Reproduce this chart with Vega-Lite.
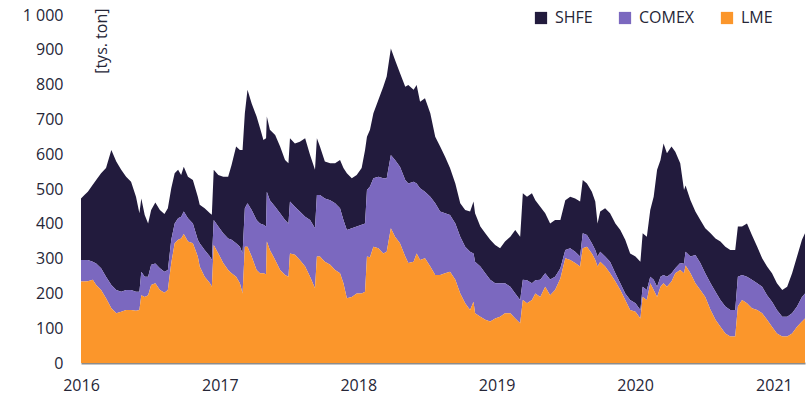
{
  "$schema": "https://vega.github.io/schema/vega-lite/v6.json",
  "width": 724,
  "height": 348,
  "autosize": {"type": "none"},
  "padding": {"left": 81, "top": 15, "right": 3, "bottom": 39},
  "config": {"font": "Open Sans", "view": {"stroke": null}},
  "data": {"values": [
    {"d":"2016-01-01","LME":234,"COMEX":62,"SHFE":177},
    {"d":"2016-01-10","LME":234,"COMEX":62,"SHFE":187},
    {"d":"2016-01-19","LME":235,"COMEX":61,"SHFE":196},
    {"d":"2016-02-01","LME":239,"COMEX":52,"SHFE":221},
    {"d":"2016-02-10","LME":224,"COMEX":62,"SHFE":240},
    {"d":"2016-02-23","LME":210,"COMEX":62,"SHFE":273},
    {"d":"2016-03-07","LME":186,"COMEX":62,"SHFE":312},
    {"d":"2016-03-21","LME":157,"COMEX":67,"SHFE":388},
    {"d":"2016-04-03","LME":143,"COMEX":67,"SHFE":369},
    {"d":"2016-04-16","LME":147,"COMEX":58,"SHFE":350},
    {"d":"2016-04-29","LME":152,"COMEX":58,"SHFE":325},
    {"d":"2016-05-12","LME":152,"COMEX":58,"SHFE":311},
    {"d":"2016-05-25","LME":150,"COMEX":55,"SHFE":273},
    {"d":"2016-06-03","LME":152,"COMEX":53,"SHFE":225},
    {"d":"2016-06-08","LME":195,"COMEX":67,"SHFE":211},
    {"d":"2016-06-17","LME":190,"COMEX":58,"SHFE":177},
    {"d":"2016-06-26","LME":195,"COMEX":53,"SHFE":153},
    {"d":"2016-07-04","LME":224,"COMEX":58,"SHFE":158},
    {"d":"2016-07-15","LME":229,"COMEX":57,"SHFE":175},
    {"d":"2016-07-27","LME":210,"COMEX":62,"SHFE":168},
    {"d":"2016-08-08","LME":202,"COMEX":60,"SHFE":166},
    {"d":"2016-08-17","LME":210,"COMEX":57,"SHFE":178},
    {"d":"2016-08-26","LME":287,"COMEX":67,"SHFE":148},
    {"d":"2016-09-04","LME":344,"COMEX":57,"SHFE":144},
    {"d":"2016-09-13","LME":354,"COMEX":62,"SHFE":139},
    {"d":"2016-09-21","LME":358,"COMEX":62,"SHFE":120},
    {"d":"2016-09-28","LME":371,"COMEX":64,"SHFE":129},
    {"d":"2016-10-09","LME":349,"COMEX":67,"SHFE":119},
    {"d":"2016-10-22","LME":344,"COMEX":57,"SHFE":125},
    {"d":"2016-11-04","LME":306,"COMEX":48,"SHFE":124},
    {"d":"2016-11-09","LME":277,"COMEX":67,"SHFE":111},
    {"d":"2016-11-22","LME":248,"COMEX":77,"SHFE":120},
    {"d":"2016-12-06","LME":229,"COMEX":77,"SHFE":124},
    {"d":"2016-12-11","LME":219,"COMEX":77,"SHFE":130},
    {"d":"2016-12-16","LME":339,"COMEX":72,"SHFE":144},
    {"d":"2016-12-28","LME":315,"COMEX":77,"SHFE":148},
    {"d":"2017-01-10","LME":287,"COMEX":86,"SHFE":162},
    {"d":"2017-01-23","LME":267,"COMEX":91,"SHFE":177},
    {"d":"2017-02-01","LME":258,"COMEX":96,"SHFE":215},
    {"d":"2017-02-13","LME":248,"COMEX":96,"SHFE":278},
    {"d":"2017-02-23","LME":229,"COMEX":105,"SHFE":278},
    {"d":"2017-03-02","LME":200,"COMEX":115,"SHFE":297},
    {"d":"2017-03-08","LME":334,"COMEX":111,"SHFE":273},
    {"d":"2017-03-15","LME":334,"COMEX":125,"SHFE":326},
    {"d":"2017-03-26","LME":306,"COMEX":134,"SHFE":306},
    {"d":"2017-04-08","LME":267,"COMEX":144,"SHFE":297},
    {"d":"2017-04-17","LME":258,"COMEX":143,"SHFE":274},
    {"d":"2017-04-26","LME":258,"COMEX":139,"SHFE":244},
    {"d":"2017-05-03","LME":255,"COMEX":137,"SHFE":254},
    {"d":"2017-05-05","LME":349,"COMEX":143,"SHFE":216},
    {"d":"2017-05-13","LME":325,"COMEX":143,"SHFE":202},
    {"d":"2017-05-27","LME":296,"COMEX":153,"SHFE":206},
    {"d":"2017-06-09","LME":267,"COMEX":163,"SHFE":192},
    {"d":"2017-06-22","LME":253,"COMEX":158,"SHFE":172},
    {"d":"2017-07-01","LME":248,"COMEX":153,"SHFE":173},
    {"d":"2017-07-05","LME":315,"COMEX":149,"SHFE":182},
    {"d":"2017-07-18","LME":311,"COMEX":138,"SHFE":182},
    {"d":"2017-07-31","LME":296,"COMEX":139,"SHFE":201},
    {"d":"2017-08-14","LME":277,"COMEX":143,"SHFE":226},
    {"d":"2017-08-27","LME":248,"COMEX":163,"SHFE":187},
    {"d":"2017-09-09","LME":215,"COMEX":172,"SHFE":168},
    {"d":"2017-09-14","LME":306,"COMEX":177,"SHFE":163},
    {"d":"2017-09-22","LME":306,"COMEX":177,"SHFE":139},
    {"d":"2017-10-05","LME":291,"COMEX":182,"SHFE":106},
    {"d":"2017-10-19","LME":282,"COMEX":186,"SHFE":106},
    {"d":"2017-11-01","LME":267,"COMEX":192,"SHFE":115},
    {"d":"2017-11-14","LME":258,"COMEX":187,"SHFE":138},
    {"d":"2017-11-23","LME":229,"COMEX":182,"SHFE":149},
    {"d":"2017-12-02","LME":186,"COMEX":196,"SHFE":163},
    {"d":"2017-12-15","LME":190,"COMEX":197,"SHFE":144},
    {"d":"2017-12-28","LME":200,"COMEX":192,"SHFE":148},
    {"d":"2018-01-10","LME":200,"COMEX":197,"SHFE":163},
    {"d":"2018-01-19","LME":205,"COMEX":196,"SHFE":211},
    {"d":"2018-01-24","LME":306,"COMEX":191,"SHFE":153},
    {"d":"2018-02-01","LME":304,"COMEX":203,"SHFE":163},
    {"d":"2018-02-10","LME":334,"COMEX":197,"SHFE":187},
    {"d":"2018-02-23","LME":330,"COMEX":205,"SHFE":221},
    {"d":"2018-03-08","LME":315,"COMEX":216,"SHFE":263},
    {"d":"2018-03-17","LME":320,"COMEX":211,"SHFE":292},
    {"d":"2018-03-28","LME":387,"COMEX":211,"SHFE":306},
    {"d":"2018-04-08","LME":363,"COMEX":220,"SHFE":288},
    {"d":"2018-04-21","LME":344,"COMEX":220,"SHFE":269},
    {"d":"2018-05-05","LME":306,"COMEX":220,"SHFE":268},
    {"d":"2018-05-13","LME":287,"COMEX":229,"SHFE":283},
    {"d":"2018-05-27","LME":291,"COMEX":230,"SHFE":264},
    {"d":"2018-06-04","LME":315,"COMEX":201,"SHFE":283},
    {"d":"2018-06-13","LME":296,"COMEX":206,"SHFE":249},
    {"d":"2018-06-26","LME":301,"COMEX":191,"SHFE":269},
    {"d":"2018-07-10","LME":277,"COMEX":201,"SHFE":240},
    {"d":"2018-07-23","LME":253,"COMEX":206,"SHFE":191},
    {"d":"2018-08-05","LME":253,"COMEX":182,"SHFE":187},
    {"d":"2018-08-18","LME":258,"COMEX":172,"SHFE":163},
    {"d":"2018-08-31","LME":262,"COMEX":163,"SHFE":135},
    {"d":"2018-09-14","LME":239,"COMEX":162,"SHFE":115},
    {"d":"2018-09-27","LME":200,"COMEX":163,"SHFE":96},
    {"d":"2018-10-10","LME":172,"COMEX":162,"SHFE":106},
    {"d":"2018-10-23","LME":152,"COMEX":168,"SHFE":115},
    {"d":"2018-11-01","LME":176,"COMEX":139,"SHFE":149},
    {"d":"2018-11-05","LME":143,"COMEX":148,"SHFE":139},
    {"d":"2018-11-19","LME":133,"COMEX":144,"SHFE":115},
    {"d":"2018-12-02","LME":124,"COMEX":134,"SHFE":115},
    {"d":"2018-12-15","LME":119,"COMEX":120,"SHFE":115},
    {"d":"2018-12-28","LME":128,"COMEX":101,"SHFE":110},
    {"d":"2019-01-10","LME":133,"COMEX":96,"SHFE":101},
    {"d":"2019-01-23","LME":143,"COMEX":86,"SHFE":120},
    {"d":"2019-02-06","LME":143,"COMEX":76,"SHFE":144},
    {"d":"2019-02-19","LME":128,"COMEX":72,"SHFE":182},
    {"d":"2019-03-04","LME":114,"COMEX":67,"SHFE":182},
    {"d":"2019-03-11","LME":181,"COMEX":58,"SHFE":249},
    {"d":"2019-03-22","LME":172,"COMEX":66,"SHFE":240},
    {"d":"2019-04-04","LME":181,"COMEX":48,"SHFE":259},
    {"d":"2019-04-13","LME":200,"COMEX":38,"SHFE":230},
    {"d":"2019-04-26","LME":190,"COMEX":49,"SHFE":210},
    {"d":"2019-05-09","LME":219,"COMEX":39,"SHFE":172},
    {"d":"2019-05-22","LME":195,"COMEX":45,"SHFE":161},
    {"d":"2019-06-04","LME":210,"COMEX":38,"SHFE":163},
    {"d":"2019-06-18","LME":243,"COMEX":29,"SHFE":139},
    {"d":"2019-07-01","LME":301,"COMEX":24,"SHFE":143},
    {"d":"2019-07-14","LME":296,"COMEX":34,"SHFE":148},
    {"d":"2019-07-27","LME":287,"COMEX":33,"SHFE":153},
    {"d":"2019-08-09","LME":277,"COMEX":29,"SHFE":158},
    {"d":"2019-08-16","LME":330,"COMEX":43,"SHFE":153},
    {"d":"2019-08-27","LME":334,"COMEX":34,"SHFE":148},
    {"d":"2019-09-09","LME":315,"COMEX":29,"SHFE":148},
    {"d":"2019-09-18","LME":296,"COMEX":29,"SHFE":139},
    {"d":"2019-09-24","LME":277,"COMEX":29,"SHFE":95},
    {"d":"2019-10-01","LME":291,"COMEX":29,"SHFE":115},
    {"d":"2019-10-14","LME":277,"COMEX":29,"SHFE":139},
    {"d":"2019-10-27","LME":258,"COMEX":33,"SHFE":139},
    {"d":"2019-11-10","LME":234,"COMEX":24,"SHFE":143},
    {"d":"2019-11-23","LME":210,"COMEX":19,"SHFE":153},
    {"d":"2019-12-06","LME":181,"COMEX":19,"SHFE":154},
    {"d":"2019-12-19","LME":152,"COMEX":29,"SHFE":134},
    {"d":"2020-01-02","LME":147,"COMEX":25,"SHFE":134},
    {"d":"2020-01-15","LME":128,"COMEX":24,"SHFE":139},
    {"d":"2020-01-21","LME":190,"COMEX":29,"SHFE":154},
    {"d":"2020-02-01","LME":181,"COMEX":29,"SHFE":153},
    {"d":"2020-02-10","LME":229,"COMEX":19,"SHFE":192},
    {"d":"2020-02-19","LME":210,"COMEX":29,"SHFE":239},
    {"d":"2020-02-28","LME":190,"COMEX":29,"SHFE":336},
    {"d":"2020-03-08","LME":219,"COMEX":29,"SHFE":335},
    {"d":"2020-03-16","LME":229,"COMEX":24,"SHFE":378},
    {"d":"2020-03-25","LME":219,"COMEX":29,"SHFE":355},
    {"d":"2020-04-06","LME":234,"COMEX":24,"SHFE":364},
    {"d":"2020-04-16","LME":258,"COMEX":14,"SHFE":335},
    {"d":"2020-04-29","LME":267,"COMEX":20,"SHFE":287},
    {"d":"2020-05-09","LME":258,"COMEX":27,"SHFE":212},
    {"d":"2020-05-13","LME":280,"COMEX":40,"SHFE":190},
    {"d":"2020-05-26","LME":258,"COMEX":48,"SHFE":162},
    {"d":"2020-06-08","LME":229,"COMEX":81,"SHFE":125},
    {"d":"2020-06-21","LME":210,"COMEX":77,"SHFE":124},
    {"d":"2020-07-04","LME":190,"COMEX":68,"SHFE":129},
    {"d":"2020-07-18","LME":152,"COMEX":77,"SHFE":144},
    {"d":"2020-07-31","LME":124,"COMEX":81,"SHFE":153},
    {"d":"2020-08-13","LME":104,"COMEX":77,"SHFE":168},
    {"d":"2020-08-26","LME":85,"COMEX":77,"SHFE":172},
    {"d":"2020-09-08","LME":76,"COMEX":76,"SHFE":173},
    {"d":"2020-09-21","LME":76,"COMEX":76,"SHFE":173},
    {"d":"2020-09-28","LME":162,"COMEX":86,"SHFE":144},
    {"d":"2020-10-09","LME":181,"COMEX":72,"SHFE":139},
    {"d":"2020-10-22","LME":172,"COMEX":76,"SHFE":153},
    {"d":"2020-11-04","LME":157,"COMEX":82,"SHFE":129},
    {"d":"2020-11-18","LME":152,"COMEX":77,"SHFE":105},
    {"d":"2020-12-01","LME":143,"COMEX":76,"SHFE":82},
    {"d":"2020-12-14","LME":124,"COMEX":71,"SHFE":82},
    {"d":"2020-12-27","LME":104,"COMEX":72,"SHFE":82},
    {"d":"2021-01-09","LME":85,"COMEX":67,"SHFE":77},
    {"d":"2021-01-23","LME":76,"COMEX":57,"SHFE":77},
    {"d":"2021-02-05","LME":76,"COMEX":57,"SHFE":86},
    {"d":"2021-02-18","LME":85,"COMEX":58,"SHFE":115},
    {"d":"2021-03-03","LME":104,"COMEX":58,"SHFE":144},
    {"d":"2021-03-16","LME":119,"COMEX":71,"SHFE":164},
    {"d":"2021-03-24","LME":128,"COMEX":72,"SHFE":173}
  ]},
  "transform": [
    {"fold": ["SHFE", "COMEX", "LME"], "as": ["rynek", "v"]},
    {"lookup": "rynek", "from": {"data": {"values": [
      {"rynek": "LME", "k": 1}, {"rynek": "COMEX", "k": 2}, {"rynek": "SHFE", "k": 3}
    ]}, "key": "rynek", "fields": ["k"]}}
  ],
  "mark": {"type": "area", "interpolate": "linear"},
  "encoding": {
    "x": {
      "field": "d", "type": "temporal",
      "scale": {"domain": ["2016-01-01", "2021-03-24"]},
      "axis": {
        "title": null, "format": "%Y", "tickCount": "year",
        "labelFontSize": 16, "labelColor": "#262637", "labelFlush": false,
        "ticks": false, "grid": false, "domainColor": "#8c8c8c", "domainWidth": 2,
        "labelPadding": 14
      }
    },
    "y": {
      "field": "v", "type": "quantitative", "stack": "zero",
      "scale": {"domain": [0, 1000]},
      "axis": {
        "title": "[tys. ton]", "values": [0,100,200,300,400,500,600,700,800,900,1000],
        "labelExpr": "replace(datum.label, ',', ' ')",
        "labelFontSize": 16, "labelColor": "#262637", "labelPadding": 18,
        "ticks": false, "domain": false, "grid": false,
        "titleAngle": -90, "titleX": 20, "titleY": -7, "titleAlign": "right", "titleBaseline": "middle",
        "titleFontSize": 16, "titleFontWeight": "normal", "titleColor": "#262637"
      }
    },
    "order": {"field": "k", "type": "quantitative", "sort": "ascending"},
    "color": {
      "field": "rynek", "type": "nominal",
      "scale": {"domain": ["SHFE", "COMEX", "LME"], "range": ["#221b3d", "#7b68bf", "#fb962b"]},
      "legend": {
        "title": null, "orient": "none", "direction": "horizontal",
        "legendX": 452, "legendY": -5, "padding": 0,
        "symbolType": "square", "symbolSize": 150, "symbolStrokeWidth": 0, "symbolOpacity": 1,
        "labelFontSize": 16, "labelColor": "#262637", "labelOffset": 6, "columnPadding": 24
      }
    }
  }
}
